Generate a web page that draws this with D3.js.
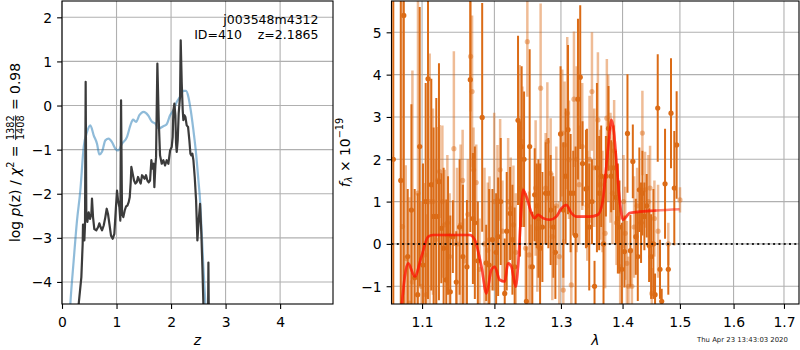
<!DOCTYPE html>
<html><head><meta charset="utf-8">
<script src="https://cdn.jsdelivr.net/npm/d3@7"></script>
<style>body{margin:0;background:#fff}svg{display:block}text{font-family:"DejaVu Sans",sans-serif}</style>
</head><body><svg id="c" width="800" height="350"></svg>
<script>
// ---------------- data ----------------
const zTicks = [0,1,2,3,4];
const pTicks = [-4,-3,-2,-1,0,1,2];
const lamTicks = [1.1,1.2,1.3,1.4,1.5,1.6,1.7];
const fluxTicks = [-1,0,1,2,3,4,5];

const zBlue = [0.13,0.153,0.214,0.275,0.336,0.398,0.459,0.520,0.581,0.642,0.685,0.734,0.795,0.856,0.917,0.979,1.028,1.101,1.193,1.254,1.303,1.358,1.419,1.498,1.578,1.651,1.713,1.774,1.859,1.920,1.982,2.043,2.104,2.165,2.226,2.275,2.318,2.361,2.410,2.459,2.502,2.532,2.563,2.593,2.630,2.66];
const pBlue = [-5.0,-4.5,-3.52,-2.61,-1.93,-0.94,-0.60,-0.45,-0.675,-0.865,-1.11,-1.05,-0.79,-0.75,-0.83,-0.98,-1.02,-0.865,-0.71,-0.45,-0.32,-0.37,-0.22,-0.145,-0.22,-0.37,-0.41,-0.52,-0.47,-0.425,-0.22,-0.107,0.08,0.195,0.33,0.33,0.195,-0.107,-0.56,-1.09,-1.70,-2.15,-2.91,-3.67,-4.5,-5.2];

const zDark = [0.28,0.306,0.355,0.379,0.385,0.404,0.410,0.422,0.434,0.446,0.465,0.489,0.514,0.538,0.550,0.569,0.593,0.630,0.661,0.685,0.709,0.734,0.765,0.795,0.820,0.844,0.869,0.899,0.930,0.960,0.991,1.009,1.028,1.052,1.070,1.083,1.101,1.125,1.150,1.174,1.199,1.223,1.242,1.260,1.272,1.297,1.321,1.346,1.370,1.394,1.419,1.443,1.468,1.492,1.517,1.541,1.566,1.590,1.615,1.639,1.657,1.682,1.694,1.713,1.725,1.749,1.774,1.798,1.829,1.859,1.890,1.920,1.951,1.982,2.012,2.030,2.043,2.061,2.079,2.092,2.104,2.122,2.140,2.165,2.177,2.196,2.214,2.226,2.245,2.263,2.287,2.312,2.336,2.355,2.373,2.391,2.410,2.434,2.459,2.483,2.507,2.532,2.556,2.575,2.593,2.62,2.672,2.685,2.70,2.72];
const pDark = [-5.2,-4.5,-3.89,-3.14,-2.70,-2.70,-3.06,-2.70,0.537,-2.46,-2.64,-2.42,-2.57,-2.46,-2.11,-2.53,-2.80,-2.83,-2.76,-2.67,-2.76,-2.83,-2.72,-2.53,-2.34,-2.46,-2.68,-2.95,-3.02,-2.91,-2.27,-1.93,-2.15,-2.30,-2.61,0.12,-2.46,-2.53,-2.38,-2.29,-2.27,-2.19,-2.08,-1.74,-1.39,-1.55,-1.70,-1.77,-1.74,-1.62,-1.70,-1.77,-1.58,-1.62,-1.66,-1.58,-1.70,-1.74,-1.70,-1.24,-1.43,-1.32,-1.85,-1.36,-1.17,0.95,-0.33,-1.13,-1.32,-1.24,-1.36,-1.24,-1.32,-1.02,-0.94,-0.71,-0.11,0.045,-0.22,-0.86,-1.05,-0.79,-0.18,0.20,1.48,0.50,-0.11,-0.33,-0.22,-0.26,-0.45,-0.485,-0.79,-1.09,-1.13,-1.09,-1.24,-1.62,-2.15,-3.06,-2.61,-2.23,-2.91,-3.67,-4.5,-6,-6,-3.56,-6,-6];

const modelLam = [1.070,1.0739,1.0774,1.0817,1.0904,1.0992,1.1080,1.1147,1.1650,1.1720,1.1815,1.1886,1.1957,1.2005,1.2077,1.2150,1.2198,1.2248,1.2311,1.2346,1.2397,1.2421,1.2471,1.2547,1.2596,1.2646,1.2722,1.2826,1.2928,1.3007,1.3085,1.3163,1.3243,1.3456,1.3591,1.3673,1.3729,1.3784,1.3812,1.3851,1.3895,1.3951,1.4007,1.4065,1.4120,1.4580,1.4994];
const modelFlux = [-2.0,-1.36,-0.77,-0.46,-0.77,-0.30,0.17,0.21,0.21,0.095,-0.54,-1.17,-0.61,-0.54,-0.85,-0.89,-0.46,-0.54,-1.01,-0.54,0.88,1.28,1.12,0.73,0.61,0.69,0.61,0.57,0.645,0.84,0.92,0.73,0.645,0.645,0.69,1.04,1.83,2.62,2.93,2.70,1.99,1.04,0.57,0.645,0.73,0.79,0.82];

const darkLam = [1.0626,1.0722,1.0761,1.0812,1.0860,1.0903,1.0942,1.0969,1.1012,1.1048,1.1079,1.1123,1.1154,1.1190,1.1226,1.1258,1.1289,1.1325,1.1349,1.1380,1.1415,1.1462,1.1508,1.1554,1.1610,1.1657,1.1694,1.1721,1.1763,1.1825,1.1882,1.1925,1.1972,1.2025,1.2054,1.2092,1.2150,1.2179,1.2229,1.2263,1.2296,1.2346,1.2376,1.2400,1.2436,1.2471,1.2520,1.2560,1.2596,1.2626,1.2652,1.2678,1.2713,1.2763,1.2805,1.2840,1.2882,1.2913,1.2994,1.3037,1.3073,1.3111,1.3152,1.3194,1.3231,1.3269,1.3305,1.3342,1.3397,1.3413,1.3450,1.3494,1.3536,1.3575,1.3612,1.3645,1.3683,1.3722,1.3765,1.3809,1.3848,1.3887,1.3921,1.3948,1.3988,1.4032,1.4083,1.4133,1.4174,1.4225,1.4259,1.4286,1.4315,1.4338,1.4372,1.4413,1.4454,1.4489,1.4529,1.4558,1.4605,1.4645,1.4675,1.4734,1.4792,1.4840,1.4899,1.4941];
const darkFlux = [2.0,1.5,5.4,-0.3,0.8,-0.8,-1.2,2.3,-0.5,1.0,3.9,1.4,0.65,0.65,1.47,0.37,-0.1,-0.85,0.2,-1.13,0.17,-0.9,0.4,-0.3,-0.54,3.88,0.6,0.5,-0.4,2.99,-0.45,-0.5,0.1,-0.2,0.17,1.0,-1.17,0.3,0.72,0.1,-0.54,2.92,1.3,2.30,2.0,-1.36,2.30,-0.54,1.16,0.9,0.6,-0.1,0.4,1.2,1.2,0.8,0.4,-0.2,2.6,0.8,1.6,2.7,1.2,1.2,0.2,3.42,3.94,1.9,1.3,1.32,0.4,1.0,-1.0,1.8,1.2,1.6,0.0,1.6,2.73,1.6,1.8,1.1,0.6,0.4,-0.6,-0.18,2.61,-0.16,1.95,0.17,-0.3,1.28,0.5,1.2,0.65,0.9,-0.03,-0.3,0.0,-1.2,3.21,-0.6,-1.36,1.42,-0.6,3.09,1.32,2.34];
const darkErr = [6,7,7,1.6,2.5,2.1,2.4,3.3,2.4,2.8,5.2,2.5,2.1,2.8,2.8,1.3,1.9,1.9,1.4,1.8,0.86,1.2,1.6,1.7,1.58,3.6,1.55,1.8,1.4,2.7,0.9,1.8,1.2,1.4,1.4,1.5,1.3,1.4,1.1,1.3,1.4,2.0,1.6,1.9,1.6,1.3,2.3,1.3,1.1,1.0,1.4,2.0,1.3,1.2,1.3,1.3,1.2,1.1,1.6,1.6,1.6,2.0,1.4,1.0,2.1,1.9,1.7,1.0,1.4,1.4,1.5,1.0,0.6,2.0,1.35,1.2,1.6,0.95,1.0,0.85,1.0,1.1,1.3,1.1,1.1,0.85,1.4,0.85,0.87,0.9,1.05,1.0,0.95,1.0,0.8,0.75,0.87,1.0,1.3,0.5,1.27,0.7,0.3,1.3,0.6,1.3,1.35,1.27];

const lightLam = [1.0744,1.0786,1.0834,1.0873,1.0946,1.0991,1.1035,1.1057,1.1101,1.1145,1.1181,1.1212,1.1235,1.1272,1.1303,1.1340,1.1371,1.1429,1.1473,1.1522,1.1550,1.1577,1.1623,1.1661,1.1682,1.1703,1.1741,1.1787,1.1858,1.1905,1.1929,1.1997,1.2044,1.2083,1.2117,1.2200,1.2238,1.2278,1.2312,1.2371,1.2411,1.2460,1.2485,1.2511,1.2535,1.2610,1.2636,1.2686,1.2763,1.2789,1.2840,1.2866,1.2928,1.2974,1.3021,1.3037,1.3057,1.3099,1.3126,1.3163,1.3205,1.3247,1.3289,1.3337,1.3418,1.3455,1.3494,1.3531,1.3591,1.3628,1.3666,1.3710,1.3738,1.3760,1.3798,1.3831,1.3859,1.3898,1.3960,1.4016,1.4045,1.4073,1.4100,1.4158,1.4196,1.4247,1.4338,1.4384,1.4442,1.4471,1.4501,1.4547,1.4611,1.4792,1.5001];
const lightFlux = [0.41,-0.34,-1.4,-0.9,1.2,-1.0,-0.26,-1.2,1.0,1.0,0.1,1.5,1.71,1.0,0.45,0.5,-0.3,2.25,0.0,0.45,1.5,-0.4,0.7,4.43,3.6,1.75,1.45,-0.6,0.0,-0.15,0.1,1.0,1.04,1.75,0.3,1.0,0.84,0.45,-0.2,2.73,2.42,-0.1,4.78,-0.26,-0.54,1.32,0.37,3.68,1.32,2.42,1.67,0.17,0.9,-0.3,2.62,-1.09,2.34,3.09,1.99,-0.97,3.42,2.0,1.4,2.3,0.9,2.0,3.6,1.8,2.93,1.4,1.0,0.25,2.97,2.5,1.8,1.2,2.2,0.5,-0.54,1.0,0.25,-0.46,-1.0,-1.0,0.4,0.9,2.62,1.28,1.0,1.32,-1.17,0.6,0.3,0.0,1.04];
const lightErr = [6,2.2,2.5,5.0,5.0,2.0,1.7,1.9,3.5,2.2,1.9,1.26,1.1,1.8,1.3,1.6,1.5,2.3,1.8,1.9,1.2,1.0,1.3,1.3,1.8,1.0,0.9,1.2,1.8,1.6,1.5,2.1,1.3,1.2,1.2,1.5,1.2,1.4,1.4,1.5,1.3,1.3,1.3,1.5,1.0,1.6,1.5,2.0,1.3,1.4,1.3,1.5,1.4,1.3,1.5,1.2,1.5,1.8,1.4,1.0,1.6,2.2,1.4,1.5,1.3,1.5,1.4,1.4,1.6,1.3,1.2,1.3,1.4,1.5,1.3,1.2,1.2,1.0,0.9,1.1,1.1,1.0,0.7,0.9,1.2,0.9,1.0,0.9,1.1,1.0,0.6,0.9,1.1,0.5,0.3];

// ---------------- layout ----------------
const svg = d3.select('#c');
const FS = 13.9;
const L = {x0:62, x1:333, y0:1, y1:304};
const R = {x0:391.5, x1:799, y0:1, y1:304};
const xz = d3.scaleLinear().domain([0,4.97]).range([L.x0,L.x1]);
const yz = d3.scaleLinear().domain([-4.5,2.37]).range([L.y1,L.y0]);
const xl = d3.scaleLog().domain([1.0603,1.731]).range([R.x0,R.x1]);
const yf = d3.scaleLinear().domain([-1.42,5.74]).range([R.y1,R.y0]);

const defs = svg.append('defs');
defs.append('clipPath').attr('id','cl').append('rect').attr('x',L.x0).attr('y',L.y0).attr('width',L.x1-L.x0).attr('height',L.y1-L.y0);
defs.append('clipPath').attr('id','cr').append('rect').attr('x',R.x0).attr('y',R.y0).attr('width',R.x1-R.x0).attr('height',R.y1-R.y0);

function grid(P, xs, ys, xt, yt){
  const g = svg.append('g').attr('stroke','#b0b0b0').attr('stroke-width',1.1);
  g.selectAll('.gx').data(xt).enter().append('line')
    .attr('x1',d=>xs(d)).attr('x2',d=>xs(d)).attr('y1',P.y0).attr('y2',P.y1);
  g.selectAll('.gy').data(yt).enter().append('line')
    .attr('y1',d=>ys(d)).attr('y2',d=>ys(d)).attr('x1',P.x0).attr('x2',P.x1);
}
grid(L, xz, yz, zTicks, pTicks);
grid(R, xl, yf, lamTicks, fluxTicks);

// ---------------- left panel ----------------
const gl = svg.append('g').attr('clip-path','url(#cl)');
gl.append('path').datum(zBlue.map((z,i)=>[z,pBlue[i]]))
  .attr('fill','none').attr('stroke','#1f77b4').attr('stroke-opacity',0.5).attr('stroke-width',2.2)
  .attr('d', d3.line().x(d=>xz(d[0])).y(d=>yz(d[1])).curve(d3.curveMonotoneX));
gl.append('path').datum(zDark.map((z,i)=>[z,pDark[i]]))
  .attr('fill','none').attr('stroke','#3b3b3b').attr('stroke-width',2.2).attr('stroke-linejoin','round')
  .attr('d', d3.line().x(d=>xz(d[0])).y(d=>yz(d[1])));

// ---------------- right panel ----------------
const gr = svg.append('g').attr('clip-path','url(#cr)');
const ORANGE = '#db6b16';
function series(lam, flux, err, op, bw){
  const pts = lam.map((l,i)=>({l, f:flux[i], e:err[i]}));
  const g = gr.append('g');
  g.selectAll('line').data(pts).enter().append('line')
    .attr('x1',d=>xl(d.l)).attr('x2',d=>xl(d.l))
    .attr('y1',d=>yf(d.f-d.e)).attr('y2',d=>yf(d.f+d.e))
    .attr('stroke',ORANGE).attr('stroke-opacity',op).attr('stroke-width',bw);
  g.selectAll('circle').data(pts).enter().append('circle')
    .attr('cx',d=>xl(d.l)).attr('cy',d=>yf(d.f)).attr('r',2.6).attr('fill',ORANGE).attr('fill-opacity',op);
}
series(lightLam, lightFlux, lightErr, 0.45, 2.5);
series(darkLam, darkFlux, darkErr, 1, 2.0);

const mline = d3.line().x(d=>xl(d[0])).y(d=>yf(d[1])).curve(d3.curveMonotoneX);
const mpts = modelLam.map((l,i)=>[l,modelFlux[i]]);
gr.append('path').datum(mpts.filter(d=>d[0]<=1.459))
  .attr('fill','none').attr('stroke','#ff1000').attr('stroke-opacity',0.5).attr('stroke-width',2.6).attr('d',mline);
gr.append('path').datum(mpts)
  .attr('fill','none').attr('stroke','#ff1000').attr('stroke-opacity',0.5).attr('stroke-width',2.6).attr('d',mline);

gr.append('line').attr('x1',R.x0).attr('x2',R.x1).attr('y1',yf(0)).attr('y2',yf(0))
  .attr('stroke','#000').attr('stroke-opacity',0.85).attr('stroke-width',2).attr('stroke-dasharray','2,3.3');

// ---------------- axes ----------------
function axes(P, xs, ys, xt, yt, xfmt, yfmt){
  const ax = svg.append('g').attr('transform',`translate(0,${P.y1})`)
    .call(d3.axisBottom(xs).tickValues(xt).tickFormat(xfmt).tickSize(4.9).tickPadding(4.9));
  const ay = svg.append('g').attr('transform',`translate(${P.x0},0)`)
    .call(d3.axisLeft(ys).tickValues(yt).tickFormat(yfmt).tickSize(4.9).tickPadding(4.9));
  [ax,ay].forEach(a=>{
    a.select('.domain').remove();
    a.selectAll('line').attr('stroke','#000').attr('stroke-width',1.1);
    a.selectAll('text').attr('font-size',FS).attr('fill','#000').attr('font-family','DejaVu Sans, sans-serif');
  });
  ax.selectAll('text').attr('dy',null).attr('y',23);
  ay.selectAll('text').attr('dy','0.36em');
  svg.append('rect').attr('x',P.x0).attr('y',P.y0).attr('width',P.x1-P.x0).attr('height',P.y1-P.y0)
    .attr('fill','none').attr('stroke','#000').attr('stroke-width',1.1);
}
axes(L, xz, yz, zTicks, pTicks, d3.format('d'), d3.format('d'));
axes(R, xl, yf, lamTicks, fluxTicks, d3.format('.1f'), d3.format('d'));

// ---------------- texts ----------------
svg.append('text').attr('x',318.5).attr('y',24.2).attr('text-anchor','end').attr('font-size',12.5).text('j003548m4312');
svg.append('text').attr('x',318.5).attr('y',38.6).attr('text-anchor','end').attr('font-size',12.5)
  .style('white-space','pre').text('ID=410    z=2.1865');

svg.append('text').attr('x',(L.x0+L.x1)/2).attr('y',345).attr('text-anchor','middle').attr('font-size',FS)
  .attr('font-style','italic').text('z');
svg.append('text').attr('x',(R.x0+R.x1)/2).attr('y',345).attr('text-anchor','middle').attr('font-size',FS)
  .attr('font-style','italic').text('λ');

svg.append('text').attr('x',697).attr('y',342.3).attr('font-size',6.9).attr('fill','#222').text('Thu Apr 23 13:43:03 2020');

// left y label with fraction
(function(){
  const cy = (L.y0+L.y1)/2;
  const g = svg.append('g');
  const inner = g.append('g');
  const t1 = inner.append('text').attr('font-size',FS).attr('x',0).attr('y',0);
  t1.append('tspan').text('log\u00a0');
  t1.append('tspan').attr('font-style','italic').text('p');
  t1.append('tspan').text('(z)\u00a0/\u00a0');
  t1.append('tspan').attr('font-style','italic').text('χ');
  t1.append('tspan').attr('font-size',FS*0.7).attr('dy',-FS*0.42).text('2');
  t1.append('tspan').attr('dy',FS*0.42).text('\u00a0=\u00a0');
  const w1 = t1.node().getComputedTextLength();
  const ffs = FS*0.7;
  const num = inner.append('text').attr('font-size',ffs).attr('y',-5.6).text('1382');
  const den = inner.append('text').attr('font-size',ffs).attr('y',4.6).text('1408');
  const fw = Math.max(num.node().getComputedTextLength(), den.node().getComputedTextLength());
  num.attr('x', w1+1);
  den.attr('x', w1+1);
  inner.append('line').attr('x1',w1+1).attr('x2',w1+1+fw).attr('y1',-3.9).attr('y2',-3.9).attr('stroke','#000').attr('stroke-width',0.8);
  const t3 = inner.append('text').attr('font-size',FS).attr('x',w1+fw+2).attr('y',0).text('\u00a0=\u00a00.98');
  const total = w1+fw+2+t3.node().getComputedTextLength();
  inner.attr('transform',`translate(${-total/2},0)`);
  g.attr('transform',`translate(19.5,${cy}) rotate(-90)`);
})();

// right y label
(function(){
  const cy = (R.y0+R.y1)/2;
  const t = svg.append('text').attr('font-size',FS).attr('text-anchor','middle')
    .attr('transform',`translate(349.5,${cy}) rotate(-90)`);
  t.append('tspan').attr('font-style','italic').text('f');
  t.append('tspan').attr('font-size',FS*0.7).attr('font-style','italic').attr('dy',FS*0.2).text('λ');
  t.append('tspan').attr('dy',-FS*0.2).text('\u00a0×\u00a010');
  t.append('tspan').attr('font-size',FS*0.7).attr('dy',-FS*0.45).text('−19');
})();
</script>
</body></html>
